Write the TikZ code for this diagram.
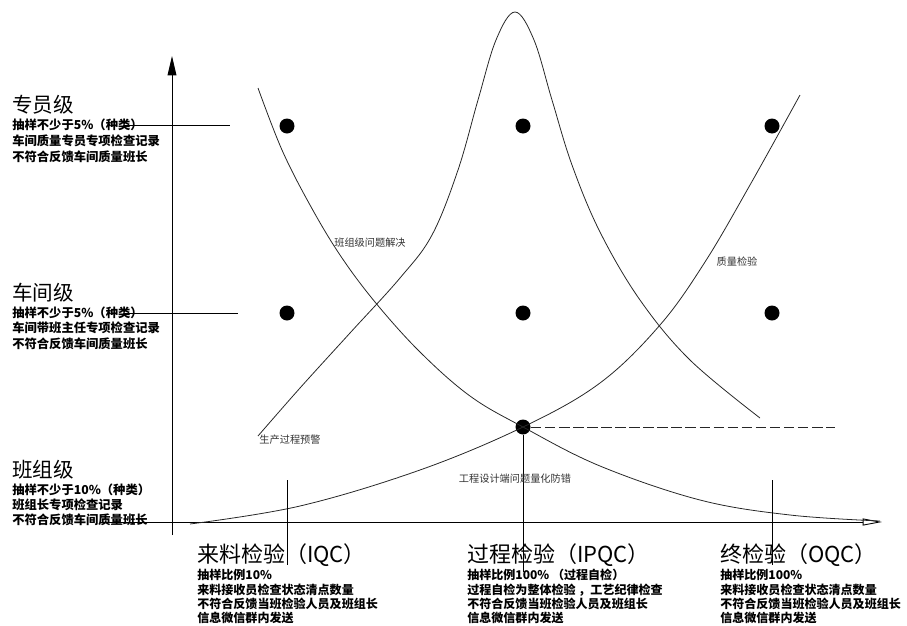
\documentclass[tikz,border=0pt]{standalone}
\usepackage{fontspec}
\setmainfont{Noto Sans CJK SC}
\usetikzlibrary{arrows.meta}
\begin{document}
\begin{tikzpicture}[x=0.02cm,y=-0.02cm,
  ltitle/.style={anchor=west,inner sep=0,font=\fontsize{11.7}{12}\selectfont},
  lbody/.style={anchor=west,inner sep=0,font=\fontsize{7}{8}\selectfont\bfseries},
  btitle/.style={anchor=west,inner sep=0,font=\fontsize{12.5}{13}\selectfont},
  bbody/.style={anchor=west,inner sep=0,font=\fontsize{6.85}{8}\selectfont\bfseries},
  clabel/.style={inner sep=0,font=\fontsize{5.8}{6}\selectfont,text=black!80},
  dot/.style={circle,fill=black,minimum size=0.3cm,inner sep=0},
  crv/.style={line width=0.45pt,black!85},
  axis/.style={line width=0.5pt,black}]
\useasboundingbox (0,0) rectangle (907,626);

% axes
\coordinate (vb) at (172,535);
\coordinate (vt) at (172,56);
\coordinate (hl) at (100,522);
\coordinate (hr) at (882,522);
\draw[axis,-{Triangle[width=5pt,length=11pt]}] (vb) -- (vt);
\draw[axis,-{Triangle[open,width=4pt,length=11pt]}] (hl) -- (hr);

% level guide lines
\coordinate (l1a) at (125,125); \coordinate (l1b) at (230,125);
\coordinate (l2a) at (125,313); \coordinate (l2b) at (238,313);
\draw[axis] (l1a) -- (l1b);
\draw[axis] (l2a) -- (l2b);

% dots
\node[dot] (d11) at (287,126) {};
\node[dot] (d12) at (523,126) {};
\node[dot] (d13) at (772,126) {};
\node[dot] (d21) at (287,313) {};
\node[dot] (d22) at (523,313) {};
\node[dot] (d23) at (772,313) {};
\node[dot] (dc) at (523,427) {};

% bell curve
\draw[crv] plot[smooth,tension=0.6] coordinates {(258,436) (300,388) (350,333) (400,278) (432,235) (458,170) (478,100) (496,40) (515,12) (534,40) (552,100) (572,165) (600,232) (640,300) (690,360) (760,418)};
% descending curve
\draw[crv] plot[smooth,tension=0.6] coordinates {(258,88) (282,150) (310,205) (340,255) (375,302) (420,352) (470,396) (523,427) (600,466) (700,500) (790,515) (880,521)};
% ascending curve
\draw[crv] plot[smooth,tension=0.6] coordinates {(190,524) (300,506) (420,470) (523,427) (600,383) (660,325) (705,262) (750,185) (800,95)};

% dashed line from center
\coordinate (de) at (835,427);
\draw[crv,dashed,dash pattern=on 6pt off 2pt] (dc) -- (de);

% vertical lines to bottom labels
\coordinate (v1a) at (287,480); \coordinate (v1b) at (287,565);
\coordinate (v2b) at (523,572);
\coordinate (v3a) at (772,480); \coordinate (v3b) at (772,565);
\draw[axis] (v1a) -- (v1b);
\draw[axis] (dc) -- (v2b);
\draw[axis] (v3a) -- (v3b);

% curve labels
\node[clabel] (c1) at (370,243) {班组级问题解决};
\node[clabel] (c2) at (737,262) {质量检验};
\node[clabel] (c3) at (290,440) {生产过程预警};
\node[clabel] (c4) at (515,479) {工程设计端问题量化防错};

% left level texts
\node[ltitle] (t1) at (12,105) {专员级};
\node[lbody] (t1a) at (12,125) {抽样不少于5\%（种类）};
\node[lbody] (t1b) at (12,141) {车间质量专员专项检查记录};
\node[lbody] (t1c) at (12,157) {不符合反馈车间质量班长};

\node[ltitle] (t2) at (12,293) {车间级};
\node[lbody] (t2a) at (12,313) {抽样不少于5\%（种类）};
\node[lbody] (t2b) at (12,328) {车间带班主任专项检查记录};
\node[lbody] (t2c) at (12,344) {不符合反馈车间质量班长};

\node[ltitle] (t3) at (12,470) {班组级};
\node[lbody] (t3a) at (12,490) {抽样不少于10\%（种类）};
\node[lbody] (t3b) at (12,505) {班组长专项检查记录};
\node[lbody] (t3c) at (12,520) {不符合反馈车间质量班长};

% bottom texts
\node[btitle] (b1) at (197,555) {来料检验（IQC）};
\node[bbody] (b1a) at (197,575) {抽样比例10\%};
\node[bbody] (b1b) at (197,590) {来料接收员检查状态清点数量};
\node[bbody] (b1c) at (197,604) {不符合反馈当班检验人员及班组长};
\node[bbody] (b1d) at (197,618) {信息微信群内发送};

\node[btitle] (b2) at (467,555) {过程检验（IPQC）};
\node[bbody] (b2a) at (467,575) {抽样比例100\% （过程自检）};
\node[bbody] (b2b) at (467,590) {过程自检为整体检验 ，工艺纪律检查};
\node[bbody] (b2c) at (467,604) {不符合反馈当班检验人员及班组长};
\node[bbody] (b2d) at (467,618) {信息微信群内发送};

\node[btitle] (b3) at (720,555) {终检验（OQC）};
\node[bbody] (b3a) at (720,575) {抽样比例100\%};
\node[bbody] (b3b) at (720,590) {来料接收员检查状态清点数量};
\node[bbody] (b3c) at (720,604) {不符合反馈当班检验人员及班组长};
\node[bbody] (b3d) at (720,618) {信息微信群内发送};
\end{tikzpicture}
\end{document}
